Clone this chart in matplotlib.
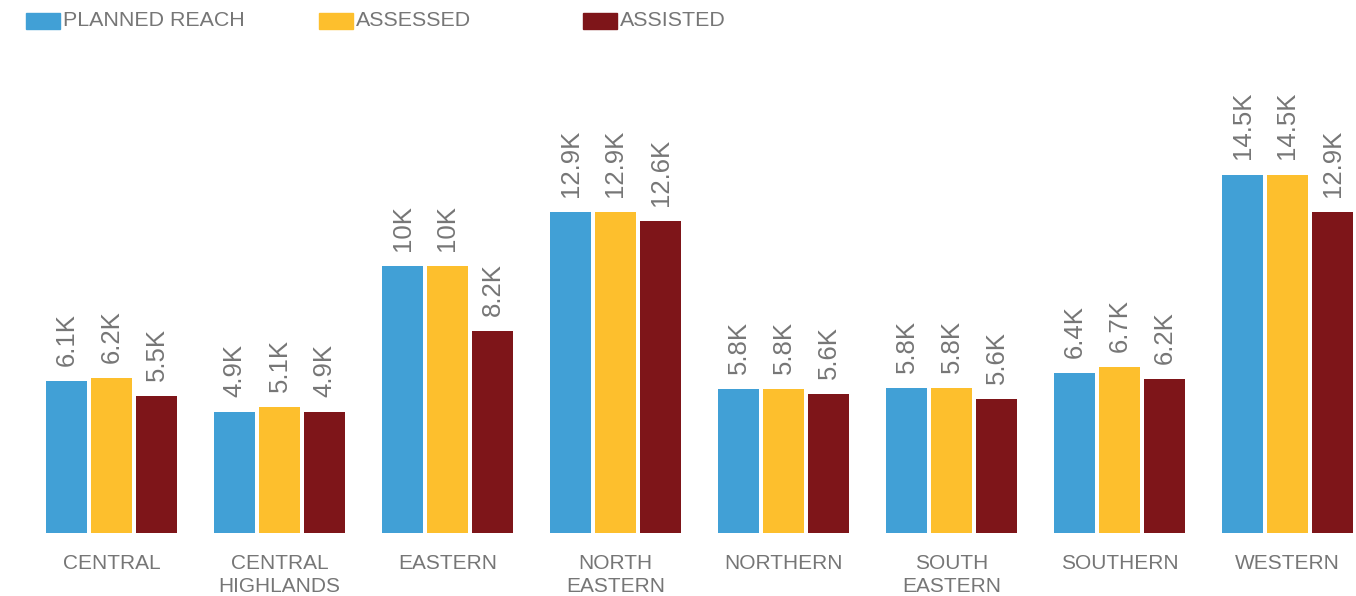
import matplotlib
matplotlib.use("Agg")
import matplotlib.pyplot as plt
from matplotlib.patches import Rectangle
import numpy as np

categories = ["CENTRAL", "CENTRAL\nHIGHLANDS", "EASTERN", "NORTH\nEASTERN",
              "NORTHERN", "SOUTH\nEASTERN", "SOUTHERN", "WESTERN"]
series_names = ["PLANNED REACH", "ASSESSED", "ASSISTED"]
planned = [6.13, 4.88, 10.77, 12.94, 5.81, 5.85, 6.45, 14.45]
assessed = [6.25, 5.08, 10.77, 12.94, 5.81, 5.85, 6.69, 14.45]
assisted = [5.52, 4.88, 8.15, 12.58, 5.60, 5.40, 6.20, 12.94]
planned_labels = ["6.1K", "4.9K", "10K", "12.9K", "5.8K", "5.8K", "6.4K", "14.5K"]
assessed_labels = ["6.2K", "5.1K", "10K", "12.9K", "5.8K", "5.8K", "6.7K", "14.5K"]
assisted_labels = ["5.5K", "4.9K", "8.2K", "12.6K", "5.6K", "5.6K", "6.2K", "12.9K"]

colors = ["#41A0D6", "#FDBF2D", "#7E1519"]
text_color = "#767676"
plt.rcParams['font.family'] = ['Liberation Sans', 'DejaVu Sans']

W, H = 1356, 596
fig = plt.figure(figsize=(W/100, H/100), dpi=100)
ax = fig.add_axes([0, 63/H, 1, 1 - 63/H - 40/H])

x = np.arange(len(categories))
width = 41/168
offset = 45/168
all_vals = [planned, assessed, assisted]
all_labels = [planned_labels, assessed_labels, assisted_labels]
for i, (vals, labs) in enumerate(zip(all_vals, all_labels)):
    pos = x + (i - 1) * offset
    ax.bar(pos, vals, width=width, color=colors[i], label=series_names[i])
    for p, v, l in zip(pos, vals, labs):
        ax.annotate(l, (p, v), xytext=(0, 11), textcoords="offset points",
                    rotation=90, ha="center", va="bottom", fontsize=18.5,
                    color=text_color)

ax.set_xlim(-111.5/168, (W - 111.5)/168)
ax.set_ylim(0, 493/24.8)
ax.set_xticks(x)
ax.set_xticklabels(categories, fontsize=15, color=text_color, linespacing=1.3)
ax.tick_params(axis="x", length=0, pad=15)
ax.set_yticks([])
for s in ax.spines.values():
    s.set_visible(False)

# legend (drawn manually to match the spacing)
legend_x = [26, 319, 583]
for lx, name, c in zip(legend_x, series_names, colors):
    fig.patches.append(Rectangle((lx/W, 1 - 29/H), 34/W, 16/H,
                                 transform=fig.transFigure, color=c))
    fig.text((lx + 37)/W, 1 - 21/H, name, fontsize=15.4, color=text_color,
             ha="left", va="center")

fig.savefig("out.png", dpi=100)
